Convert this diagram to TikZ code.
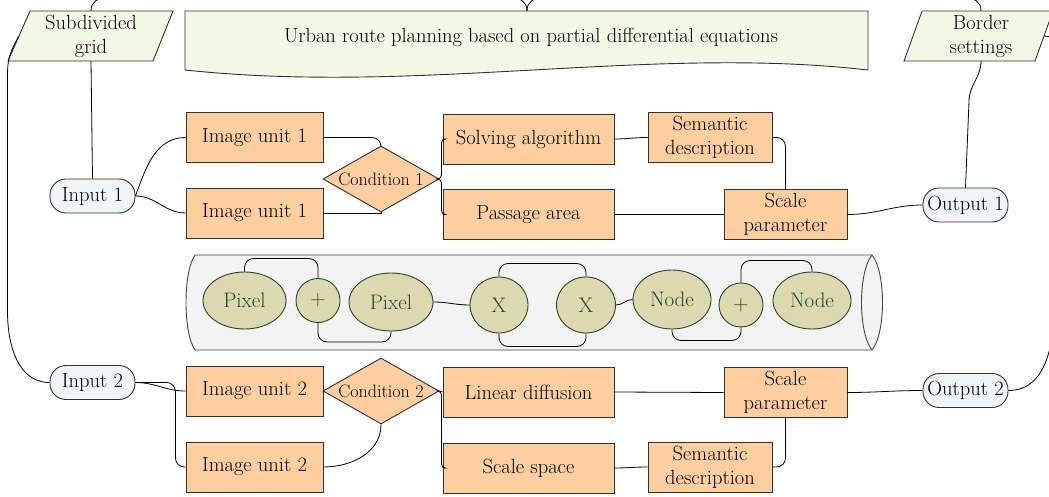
\documentclass[tikz,border=0pt]{standalone}
\usetikzlibrary{shapes.geometric}
\definecolor{peach}{RGB}{253,206,160}
\definecolor{lgreen}{RGB}{243,247,230}
\definecolor{lblue}{RGB}{239,243,250}
\definecolor{olive}{RGB}{220,217,176}
\definecolor{dgreen}{RGB}{40,70,40}
\definecolor{cylfill}{RGB}{243,243,243}
\definecolor{edge}{RGB}{50,50,50}
\begin{document}
\begin{tikzpicture}[x=1pt,y=-1pt,
  txt/.style={font=\fontsize{20.5}{24}\selectfont, text=black},
  box/.style={txt, draw=edge, fill=peach, line width=0.9pt, minimum width=137pt, minimum height=50pt, inner sep=0pt, align=center},
  sbox/.style={box, minimum width=124pt},
  pbox/.style={box, minimum width=123pt},
  abox/.style={box, minimum width=171pt},
  pill/.style={txt, draw=edge, fill=lblue, line width=0.9pt, rounded corners=16pt, minimum width=85pt, minimum height=34pt, inner sep=0pt},
  diam/.style={diamond, draw=edge, fill=peach, line width=0.9pt, minimum width=116pt, minimum height=66pt, inner sep=0pt},
  dtxt/.style={font=\fontsize{18}{20}\selectfont, text=black},
  ell/.style={ellipse, draw=dgreen, fill=olive, line width=0.9pt, inner sep=0pt, font=\fontsize{21}{24}\selectfont, text=dgreen},
  conn/.style={draw=black, line width=0.8pt},
  rc/.style={conn, rounded corners=9pt},
  brk/.style={conn, rounded corners=4pt}]
\useasboundingbox (0,0) rectangle (1049,497);
\clip (0,0) rectangle (1049,497);

% title
\draw[edge, fill=lgreen, line width=0.9pt] (185,11) -- (868,11) -- (868,70) .. controls (650,45) and (420,95) .. (185,70) -- cycle;
\node[txt, minimum width=683pt, minimum height=59pt, inner sep=0pt, text depth=0pt] (title) at (527,40.5) {};
\node[txt] at (531,37) {Urban route planning based on partial differential equations};

% parallelograms
\draw[edge, fill=lgreen, line width=0.9pt] (30,11) -- (173,11) -- (153,61) -- (8,61) -- cycle;
\node[txt, align=center, minimum height=50pt, inner sep=0pt] (sg) at (91,36) {Subdivided\\grid};
\coordinate (sgw) at (19,36);
\draw[edge, fill=lgreen, line width=0.9pt] (922,11) -- (1053,11) -- (1035,61) -- (904,61) -- cycle;
\node[txt, align=center, minimum height=50pt, inner sep=0pt] (bs) at (981,36) {Border\\settings};
\coordinate (bse) at (1044,36);

% cylinder
\draw[edge!90, fill=cylfill, line width=0.9pt] (195,255) -- (872,255) .. controls (886,272) and (886,333) .. (872,350) -- (195,350) .. controls (183,333) and (183,272) .. (195,255) -- cycle;
\draw[edge!90, line width=0.9pt] (872,255) .. controls (858,272) and (858,333) .. (872,350);

% top row
\node[pill] (in1) at (92.5,196) {Input 1};
\node[box] (iu1a) at (254.5,137.5) {Image unit 1};
\node[box] (iu1b) at (254.5,213) {Image unit 1};
\node[diam] (c1) at (381,179) {};
\node[dtxt] at (c1) {Condition 1};
\node[abox] (sa) at (528.5,139) {Solving algorithm};
\node[abox] (pa) at (528.5,214.5) {Passage area};
\node[sbox] (sd1) at (710,137.5) {Semantic\\description};
\node[pbox] (sp1) at (785.5,214.5) {Scale\\parameter};
\node[pill] (out1) at (965.5,205) {Output 1};

% ellipses
\node[ell, minimum width=83pt, minimum height=57pt] (px1) at (244.5,300.5) {Pixel};
\node[ell, minimum width=44pt, minimum height=44pt] (pl1) at (318,300.5) {+};
\node[ell, minimum width=84pt, minimum height=58pt] (px2) at (391,302) {Pixel};
\node[ell, minimum width=58pt, minimum height=56pt] (x1) at (499,305) {X};
\node[ell, minimum width=59pt, minimum height=56pt] (x2) at (586,305) {X};
\node[ell, minimum width=78pt, minimum height=59pt] (nd1) at (672,299.5) {Node};
\node[ell, minimum width=44pt, minimum height=44pt] (pl2) at (741,305) {+};
\node[ell, minimum width=78pt, minimum height=57pt] (nd2) at (812,300.5) {Node};

% bottom row
\node[pill] (in2) at (92.5,382.5) {Input 2};
\node[box] (iu2a) at (254.5,391) {Image unit 2};
\node[box] (iu2b) at (254.5,467) {Image unit 2};
\node[diam] (c2) at (381,391) {};
\node[dtxt] at (c2) {Condition 2};
\node[abox] (ld) at (528.5,392) {Linear diffusion};
\node[abox] (ss) at (528.5,468) {Scale space};
\node[sbox] (sd2) at (710,467) {Semantic\\description};
\node[pbox] (sp2) at (785.5,392.5) {Scale\\parameter};
\node[pill] (out2) at (965.5,390.5) {Output 2};

% connectors top
\draw[conn] (title.north) to[out=90,in=0] ++(-45,-13) -- ++(-345,0) to[out=180,in=90] (sg.north);
\draw[conn] (title.north) to[out=90,in=180] ++(45,-13) -- ++(363,0) to[out=0,in=90] (bs.north);
\draw[conn] (sg.south) -- (in1.north);
\draw[conn] (in1.east) to[out=70,in=180] (iu1a.west);
\draw[conn] (in1.east) to[out=0,in=180] (iu1b.west);
\draw[rc] (iu1a.east) -| (c1.north);
\draw[conn] (iu1b.east) -| (c1.south);
\draw[brk] (c1.east) -- ++(2,0) |- (sa.west);
\draw[brk] (c1.east) -- ++(2,0) |- (pa.west);
\draw[conn] (sa.east) to[out=0,in=180] (sd1.west);
\draw[rc] (sd1.east) -| (sp1.north);
\draw[conn] (pa.east) -- (sp1.west);
\draw[conn] (sp1.east) to[out=0,in=180] (out1.west);
\draw[conn] (bs.south) to[out=270,in=90] ++(-12,40) -- (out1.north);

% connectors in cylinder
\draw[rc] (px1.north) -- ++(0,-13) -| (pl1.north);
\draw[rc] (pl1.south) -- ++(0,19) -| (px2.south);
\draw[conn] (px2.east) to[out=0,in=180] (x1.west);
\draw[rc] (x1.north) -- ++(0,-13) -| (x2.north);
\draw[rc] (x1.south) -- ++(0,13) -| (x2.south);
\draw[conn] (x2.east) to[out=0,in=180] (nd1.west);
\draw[rc] (nd1.south) -- ++(0,11) -| (pl2.south);
\draw[rc] (pl2.north) -- ++(0,-22) -| (nd2.north);

% connectors bottom
\draw[conn] (in2.east) to[out=0,in=180] (iu2a.west);
\draw[rc] (in2.east) -- ++(40,0) |- (iu2b.west);
\draw[conn] (iu2a.east) -- (c2.west);
\draw[conn] (iu2b.east) to[out=0,in=270] (c2.south);
\draw[conn] (c2.east) -- (ld.west);
\draw[brk] (c2.east) -- ++(2,0) |- (ss.west);
\draw[conn] (ss.east) to[out=0,in=180] (sd2.west);
\draw[rc] (sd2.east) -| (sp2.south);
\draw[conn] (ld.east) -- (sp2.west);
\draw[conn] (sp2.east) to[out=0,in=180] (out2.west);

% long side connectors
\draw[conn] (in2.west) to[out=180,in=270] ++(-42,-70) -- ++(0,-240) to[out=90,in=240] (sgw);
\draw[conn] (out2.east) to[out=0,in=270] ++(46,-90) -- ++(0,-200) to[out=90,in=0] (bse);
\end{tikzpicture}
\end{document}
